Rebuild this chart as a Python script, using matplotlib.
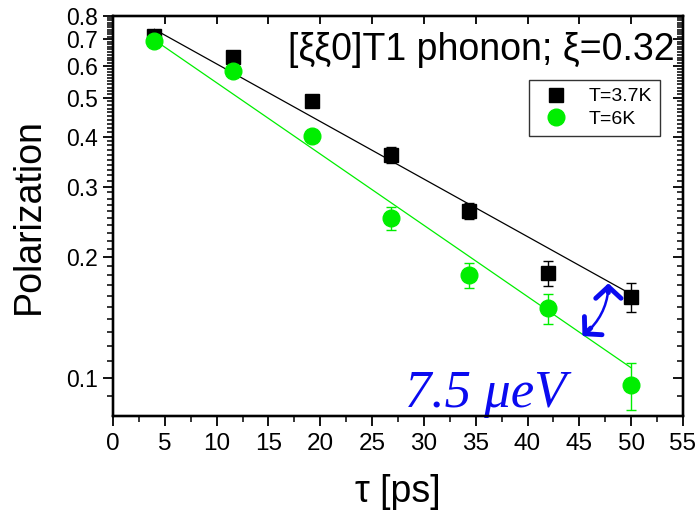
import numpy as np
import matplotlib
matplotlib.use("Agg")
import matplotlib.pyplot as plt
from matplotlib.lines import Line2D
from matplotlib.ticker import FixedLocator, NullFormatter, NullLocator

plt.rcParams['font.family'] = ['Liberation Sans', 'DejaVu Sans']

# delay times [ps]
tau = [4.0, 11.6, 19.2, 26.8, 34.4, 42.0, 50.0]

# T = 3.7 K
pol_37 = [0.713, 0.633, 0.490, 0.360, 0.261, 0.182, 0.159]
err_37 = [0.010, 0.010, 0.010, 0.016, 0.012, 0.013, 0.013]

# T = 6 K
pol_6 = [0.693, 0.583, 0.401, 0.250, 0.180, 0.149, 0.096]
err_6 = [0.008, 0.010, 0.010, 0.016, 0.013, 0.013, 0.013]

# exponential fits  P = A * exp(-t / t0)
fit_37 = (0.741, 4.0, 30.2)   # value at start, start time, decay time
fit_6 = (0.697, 4.0, 24.4)
fit_end = 50.0

x_ticks = [0, 5, 10, 15, 20, 25, 30, 35, 40, 45, 50, 55]
y_ticks = [0.1, 0.2, 0.3, 0.4, 0.5, 0.6, 0.7, 0.8]
y_labels = ['0.1', '0.2', '0.3', '0.4', '0.5', '0.6', '0.7', '0.8']
y_minor = np.round(np.arange(0.08, 0.805, 0.01), 2)

green = '#00ee00'
blue = '#0a0af0'

fig = plt.figure(figsize=(7, 5.2), dpi=100)
ax = fig.add_axes([0.1614, 0.2, 0.8143, 0.7692])

ax.errorbar(tau, pol_37, yerr=err_37, fmt='s', color='black', ms=10.5,
            capsize=3.5, elinewidth=1, capthick=1, zorder=3)
ax.errorbar(tau, pol_6, yerr=err_6, fmt='o', color=green, ms=12,
            capsize=3.5, elinewidth=1, capthick=1, zorder=3)

for (a, t_start, t0), col in [(fit_37, 'black'), (fit_6, green)]:
    t = np.linspace(t_start, fit_end, 50)
    ax.plot(t, a * np.exp(-(t - t_start) / t0), '-', color=col, lw=0.9, zorder=2)

ax.set_yscale('log')
ax.set_xlim(0, 55)
ax.set_ylim(0.0802, 0.8)

ax.xaxis.set_major_locator(FixedLocator(x_ticks))
ax.xaxis.set_minor_locator(FixedLocator(np.arange(2.5, 55, 5)))
ax.yaxis.set_major_locator(FixedLocator(y_ticks))
ax.yaxis.set_minor_locator(FixedLocator(y_minor))
ax.yaxis.set_minor_formatter(NullFormatter())
ax.set_yticklabels(y_labels)

ax.tick_params(axis='both', which='major', direction='out', length=7, width=1.3,
               labelsize=16.5, pad=4)
ax.tick_params(axis='x', which='major', labelsize=17.5, pad=5)
ax.tick_params(axis='both', which='minor', direction='out', length=4, width=1.1)
for s in ax.spines.values():
    s.set_linewidth(1.6)

# mirrored ticks on top and right pointing inwards
axr = ax.twinx()
axr.set_yscale('log')
axr.set_ylim(ax.get_ylim())
axr.yaxis.set_major_locator(FixedLocator(y_ticks))
axr.yaxis.set_minor_locator(FixedLocator(y_minor))
axr.tick_params(axis='y', which='major', direction='in', length=7, width=1.3, labelright=False)
axr.tick_params(axis='y', which='minor', direction='in', length=4, width=1.1)
axr.yaxis.set_major_formatter(NullFormatter())
axr.yaxis.set_minor_formatter(NullFormatter())

axt = ax.twiny()
axt.set_xlim(ax.get_xlim())
axt.xaxis.set_major_locator(FixedLocator(x_ticks))
axt.xaxis.set_minor_locator(NullLocator())
axt.tick_params(axis='x', which='major', direction='in', length=6, width=1.3, labeltop=False)
for a in (axr, axt):
    for s in a.spines.values():
        s.set_linewidth(1.6)

ax.set_xlabel('τ [ps]', fontsize=27, labelpad=14)
ax.set_ylabel('Polarization', fontsize=27, labelpad=14)

ax.text(0.985, 0.89, '[ξξ0]T1 phonon; ξ=0.32', transform=ax.transAxes,
        ha='right', va='baseline', fontsize=27)

ax.text(28.2, 0.0845, '7.5 μeV', color=blue, fontsize=38,
        family='Liberation Serif', style='italic', va='baseline', ha='left')

# double arrow: thin curved shaft, big open heads
ax.annotate('', xy=(47.8, 0.166), xytext=(45.6, 0.1290),
            arrowprops=dict(arrowstyle='-', color=blue, lw=1.8,
                            connectionstyle='arc3,rad=0.2',
                            shrinkA=0, shrinkB=0))
ax.annotate('', xy=(47.8, 0.172), xytext=(47.8, 0.163),
            arrowprops=dict(arrowstyle='->,head_length=0.6,head_width=0.65',
                            color=blue, lw=3.5, mutation_scale=14,
                            shrinkA=0, shrinkB=0))
ax.annotate('', xy=(45.3, 0.1270), xytext=(46.1, 0.1330),
            arrowprops=dict(arrowstyle='->,head_length=0.6,head_width=0.65',
                            color=blue, lw=3.5, mutation_scale=14,
                            shrinkA=0, shrinkB=0))

handles = [Line2D([], [], ls='none', marker='s', color='black', ms=10.5),
           Line2D([], [], ls='none', marker='o', color=green, ms=12)]
leg = ax.legend(handles, ['T=3.7K', 'T=6K'], loc='upper right',
                bbox_to_anchor=(0.96, 0.84), fontsize=14,
                frameon=True, fancybox=False, edgecolor='black', borderaxespad=0,
                handletextpad=0.7, borderpad=0.4, labelspacing=0.25,
                handlelength=2.0)
leg.get_frame().set_linewidth(1.0)

fig.savefig('out.png', dpi=100)
